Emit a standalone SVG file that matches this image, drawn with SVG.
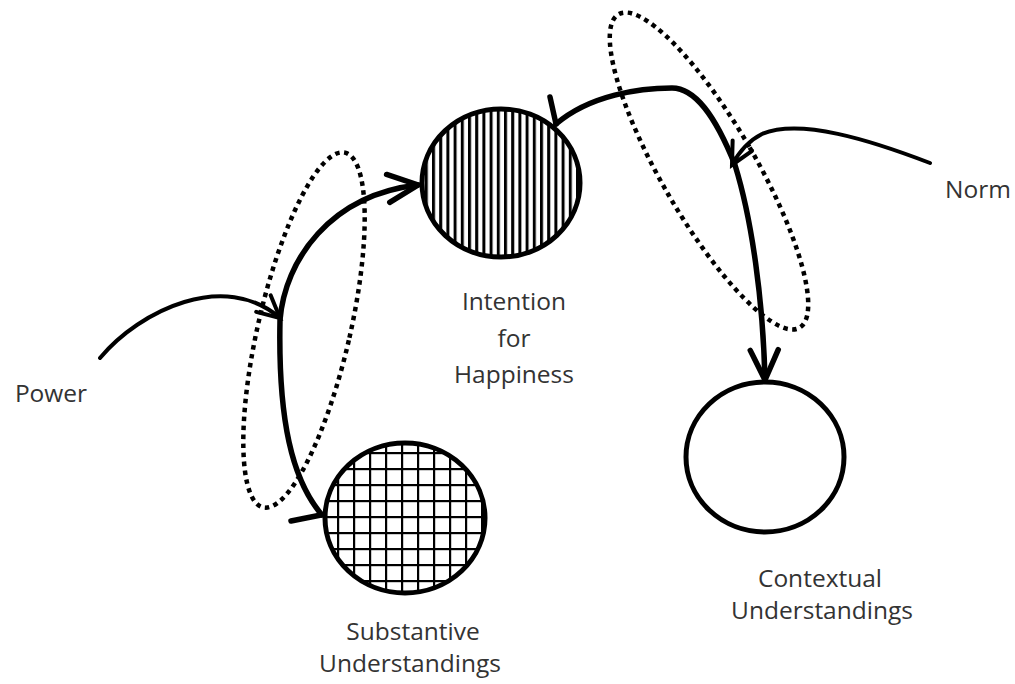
<svg xmlns="http://www.w3.org/2000/svg" width="1015" height="684" viewBox="0 0 1015 684">
  <style>
    .lbl { font-family: "Open Sans", "Liberation Sans", sans-serif; font-size: 24.5px; fill: #333; text-anchor: middle; }
    .node { stroke: #000; stroke-width: 5; }
    .thick { fill: none; stroke: #000; stroke-width: 5.5; stroke-linecap: round; stroke-linejoin: round; }
    .thin { fill: none; stroke: #000; stroke-width: 4; stroke-linecap: round; stroke-linejoin: round; }
    .dots { fill: none; stroke: #000; stroke-width: 4.5; stroke-dasharray: 4.5 4.5; }
  </style>
  <defs>
    <pattern id="vhatch" patternUnits="userSpaceOnUse" x="0" y="0" width="7.2" height="10">
      <rect width="7.2" height="10" fill="#fff"/>
      <rect x="0" y="0" width="3" height="10" fill="#000"/>
    </pattern>
    <pattern id="grid" patternUnits="userSpaceOnUse" x="1" y="4" width="16" height="16">
      <rect width="16" height="16" fill="#fff"/>
      <rect x="0" y="0" width="2.2" height="16" fill="#000"/>
      <rect x="0" y="0" width="16" height="2.2" fill="#000"/>
    </pattern>
    <marker id="vbig" markerUnits="userSpaceOnUse" viewBox="-34 -18 40 36" refX="0" refY="0" markerWidth="40" markerHeight="36" orient="auto" overflow="visible">
      <path d="M -30 -14 L 0 0 L -30 14" fill="none" stroke="#000" stroke-width="5.5" stroke-linecap="round" stroke-linejoin="miter"/>
    </marker>
    <marker id="vsmall" markerUnits="userSpaceOnUse" viewBox="-26 -14 30 28" refX="0" refY="0" markerWidth="30" markerHeight="28" orient="auto" overflow="visible">
      <path d="M -22 -11 L 0 0 L -22 11" fill="none" stroke="#000" stroke-width="4" stroke-linecap="round" stroke-linejoin="miter"/>
    </marker>
  </defs>

  <g id="connectors">
    <ellipse class="dots" cx="304" cy="330" rx="46" ry="182" transform="rotate(13 304 330)"/>
    <ellipse class="dots" cx="709" cy="171" rx="47" ry="181" transform="rotate(-30 709 171)"/>
    <path class="thin" d="M 100 358 C 140 310, 225 270, 280 318" marker-end="url(#vsmall)"/>
    <path class="thick" d="M 322 515 C 292 480, 278 420, 280 320 C 285 260, 330 195, 418 185" marker-end="url(#vbig)"/>
    <path class="thick" d="M 291 521 L 321 515"/>
    <path class="thick" d="M 556 124 C 590 95, 640 88, 672 88 C 695 88, 715 115, 735 165 C 752 220, 763 300, 765 380" marker-end="url(#vbig)"/>
    <path class="thick" d="M 550 97 L 556 124"/>
    <path class="thin" d="M 930 163 C 870 140, 800 118, 762 134 C 750 140, 740 150, 732 165" marker-end="url(#vsmall)"/>
  </g>

  <g id="intention">
    <ellipse class="node" cx="501" cy="183" rx="79" ry="74" fill="url(#vhatch)"/>
    <text class="lbl" x="514" y="310">Intention</text>
    <text class="lbl" x="514" y="347">for</text>
    <text class="lbl" x="514" y="383">Happiness</text>
  </g>

  <g id="substantive">
    <ellipse class="node" cx="405" cy="518" rx="80" ry="75" fill="url(#grid)"/>
    <text class="lbl" x="413" y="640">Substantive</text>
    <text class="lbl" x="410" y="672">Understandings</text>
  </g>

  <g id="contextual">
    <ellipse class="node" cx="765" cy="457" rx="79" ry="75" fill="#fff"/>
    <text class="lbl" x="820" y="587">Contextual</text>
    <text class="lbl" x="822" y="619">Understandings</text>
  </g>

  <g id="power">
    <text class="lbl" x="51" y="402">Power</text>
  </g>

  <g id="norm">
    <text class="lbl" x="978" y="198">Norm</text>
  </g>
</svg>
